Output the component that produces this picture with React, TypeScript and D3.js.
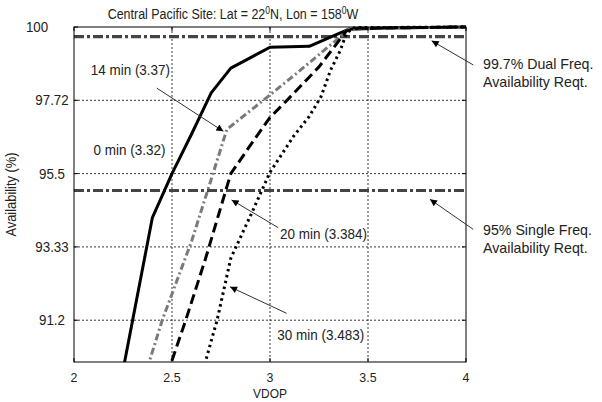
import React from 'react';
import * as d3 from 'd3';

// ---- data ----
const xTicks = [2, 2.5, 3, 3.5, 4];
const yTicks = [91.2, 93.33, 95.5, 97.72, 100];
const yBottom = 90;

const vdop0 = [2.2, 2.4, 2.5, 2.6, 2.7, 2.8, 3.0, 3.2, 3.4, 3.6, 4.0];
const avail0 = [88.3, 94.2, 95.5, 96.7, 97.95, 98.72, 99.37, 99.4, 99.93, 99.97, 100];

const vdop14 = [2.35, 2.45, 2.6, 2.7, 2.78, 2.97, 3.14, 3.34, 3.4, 3.6, 4.0];
const avail14 = [89.39, 91.2, 93.5, 95.33, 96.84, 97.74, 98.58, 99.6, 99.94, 99.97, 100];

const vdop20 = [2.45, 2.57, 2.67, 2.8, 2.92, 3.0, 3.09, 3.25, 3.39, 3.45, 4.0];
const avail20 = [89.22, 91.2, 92.97, 95.5, 96.53, 97.2, 97.74, 98.76, 99.88, 99.96, 100];

const vdop30 = [2.6, 2.67, 2.73, 2.8, 2.9, 3.0, 3.12, 3.2, 3.26, 3.31, 3.36, 3.39, 3.43, 4.0];
const avail30 = [88.6, 90.0, 91.2, 93.0, 94.25, 95.54, 96.63, 97.23, 97.83, 98.67, 99.29, 99.81, 99.98, 100];

const seriesLabels = ['0 min (3.32)', '14 min (3.37)', '20 min (3.384)', '30 min (3.483)'];
const reqValues = [99.7, 95];
const reqLabels = [
  ['99.7% Dual Freq.', 'Availability Reqt.'],
  ['95% Single Freq.', 'Availability Reqt.'],
];

// annotation anchors in data units: label [x,y], arrow tail, arrow tip
const seriesLabelPos = [[2.1, 96.23], [2.085, 98.65], [3.051, 93.71], [3.037, 90.77]];
const seriesArrowTail = [null, [2.422, 98.1], [3.042, 93.9], [3.085, 91.4]];
const seriesArrowTip = [null, [2.762, 96.78], [2.804, 94.72], [2.796, 92.17]];
const reqLabelPos = [[4.087, 98.85], [4.087, 93.83]];
const reqArrowTail = [[4.037, 98.82], [4.037, 93.85]];
const reqArrowTip = [[3.825, 99.57], [3.816, 94.74]];

const W = 602;
const H = 402;
const m = { left: 74, top: 27, right: 136, bottom: 40 };
const iw = W - m.left - m.right;
const ih = H - m.top - m.bottom;

const FONT = '"Liberation Sans", Arial, Helvetica, sans-serif';
const TXT = '#222';

const series = [
  { x: vdop0, y: avail0, color: '#000', width: 3, dash: null },
  { x: vdop14, y: avail14, color: '#7a7a7a', width: 3, dash: '7,3,2,3' },
  { x: vdop20, y: avail20, color: '#000', width: 3, dash: '10,5' },
  { x: vdop30, y: avail30, color: '#000', width: 3, dash: '2.5,3.5' },
];

function T({ x, y, size, sx = 1, anchor = 'start', children }: any) {
  return (
    <text
      transform={`translate(${x},${y}) scale(${sx},1)`}
      textAnchor={anchor}
      dy="0.35em"
      fontSize={size}
      fill={TXT}
    >
      {children}
    </text>
  );
}

export default function App() {
  const x = d3.scaleLinear().domain([2, 4]).range([0, iw]);
  const step = ih / 4.57;
  const y = d3
    .scaleLinear()
    .domain([yBottom, ...yTicks])
    .range([ih, 4 * step, 3 * step, 2 * step, step, 0]);

  const line = d3
    .line<[number, number]>()
    .x((d) => x(d[0]))
    .y((d) => y(d[1]));

  const P = (p: number[]) => [x(p[0]), y(p[1])];

  const arrow = (tail: number[], tip: number[], key: string) => {
    const [x1, y1] = P(tail);
    const [x2, y2] = P(tip);
    return (
      <line key={key} x1={x1} y1={y1} x2={x2} y2={y2} stroke="#333" strokeWidth={1} markerEnd="url(#ah)" />
    );
  };

  return (
    <svg
      width={W}
      height={H}
      style={{ position: 'absolute', left: 0, top: 0, background: '#fff' }}
      fontFamily={FONT}
    >
      <defs>
        <clipPath id="plotclip">
          <rect x={0} y={-2} width={iw} height={ih + 2} />
        </clipPath>
        <marker id="ah" viewBox="0 0 10 10" refX="10" refY="5" markerWidth="9" markerHeight="7" orient="auto" markerUnits="userSpaceOnUse">
          <path d="M0,0 L10,5 L0,10 z" fill="#000" />
        </marker>
      </defs>
      <rect x={0} y={0} width={W} height={H} fill="#fff" />

      {/* title */}
      <text transform="translate(233,19) scale(0.86,1)" textAnchor="middle" fontSize={14.5} fill={TXT}>
        Central Pacific Site: Lat = 22
        <tspan dy={-5} fontSize={10}>0</tspan>
        <tspan dy={5}>N, Lon = 158</tspan>
        <tspan dy={-5} fontSize={10}>0</tspan>
        <tspan dy={5}>W</tspan>
      </text>

      <g transform={`translate(${m.left},${m.top})`}>
        {/* grid */}
        {xTicks.slice(1, -1).map((t) => (
          <line key={'gx' + t} x1={x(t)} x2={x(t)} y1={0} y2={ih} stroke="#222" strokeWidth={0.9} strokeDasharray="2,2" />
        ))}
        {yTicks.slice(0, -1).map((t) => (
          <line key={'gy' + t} x1={0} x2={iw} y1={y(t)} y2={y(t)} stroke="#222" strokeWidth={0.9} strokeDasharray="2,2" />
        ))}

        {/* requirement lines */}
        {reqValues.map((v) => (
          <line key={'r' + v} x1={0} x2={iw} y1={y(v)} y2={y(v)} stroke="#444" strokeWidth={3.2} strokeDasharray="10,3,3,3" />
        ))}

        {/* series */}
        <g clipPath="url(#plotclip)">
          {series.map((s, i) => (
            <path
              key={'s' + i}
              d={line(s.x.map((v, j) => [v, s.y[j]] as [number, number])) || ''}
              fill="none"
              stroke={s.color}
              strokeWidth={s.width}
              strokeDasharray={s.dash || undefined}
              strokeLinejoin="round"
            />
          ))}
        </g>

        {/* frame */}
        <rect x={0} y={0} width={iw} height={ih} fill="none" stroke="#000" strokeWidth={1} />
        {xTicks.map((t) => (
          <g key={'tx' + t}>
            <line x1={x(t)} x2={x(t)} y1={ih} y2={ih - 4} stroke="#000" />
            <line x1={x(t)} x2={x(t)} y1={0} y2={4} stroke="#000" />
            <T x={x(t)} y={ih + 15} size={13.5} sx={0.92} anchor="middle">
              {t}
            </T>
          </g>
        ))}
        {yTicks.map((t) => (
          <g key={'ty' + t}>
            <line x1={0} x2={4} y1={y(t)} y2={y(t)} stroke="#000" />
            <line x1={iw} x2={iw - 4} y1={y(t)} y2={y(t)} stroke="#000" />
            <T x={t === 100 ? -37 : -22} y={y(t)} size={14.5} sx={0.92} anchor="middle">
              {t}
            </T>
          </g>
        ))}

        {/* series annotations */}
        {seriesLabels.map((lab, i) => {
          const [lx, ly] = P(seriesLabelPos[i]);
          return (
            <g key={'sl' + i}>
              <T x={lx} y={ly} size={14.5} sx={0.93}>
                {lab}
              </T>
              {seriesArrowTail[i] && arrow(seriesArrowTail[i] as number[], seriesArrowTip[i] as number[], 'sa' + i)}
            </g>
          );
        })}

        {/* requirement annotations */}
        {reqLabels.map((lines, i) => {
          const [lx, ly] = P(reqLabelPos[i]);
          return (
            <g key={'rl' + i}>
              {lines.map((l, k) => (
                <T key={k} x={lx} y={ly + k * 18} size={14.2}>
                  {l}
                </T>
              ))}
              {arrow(reqArrowTail[i], reqArrowTip[i], 'ra' + i)}
            </g>
          );
        })}

        {/* axis labels */}
        <T x={iw / 2} y={ih + 31} size={13} sx={0.92} anchor="middle">
          VDOP
        </T>
        <text transform={`translate(${-58},${ih / 2}) rotate(-90) scale(0.92,1)`} textAnchor="middle" fontSize={14} fill={TXT}>
          Availability (%)
        </text>
      </g>
    </svg>
  );
}
